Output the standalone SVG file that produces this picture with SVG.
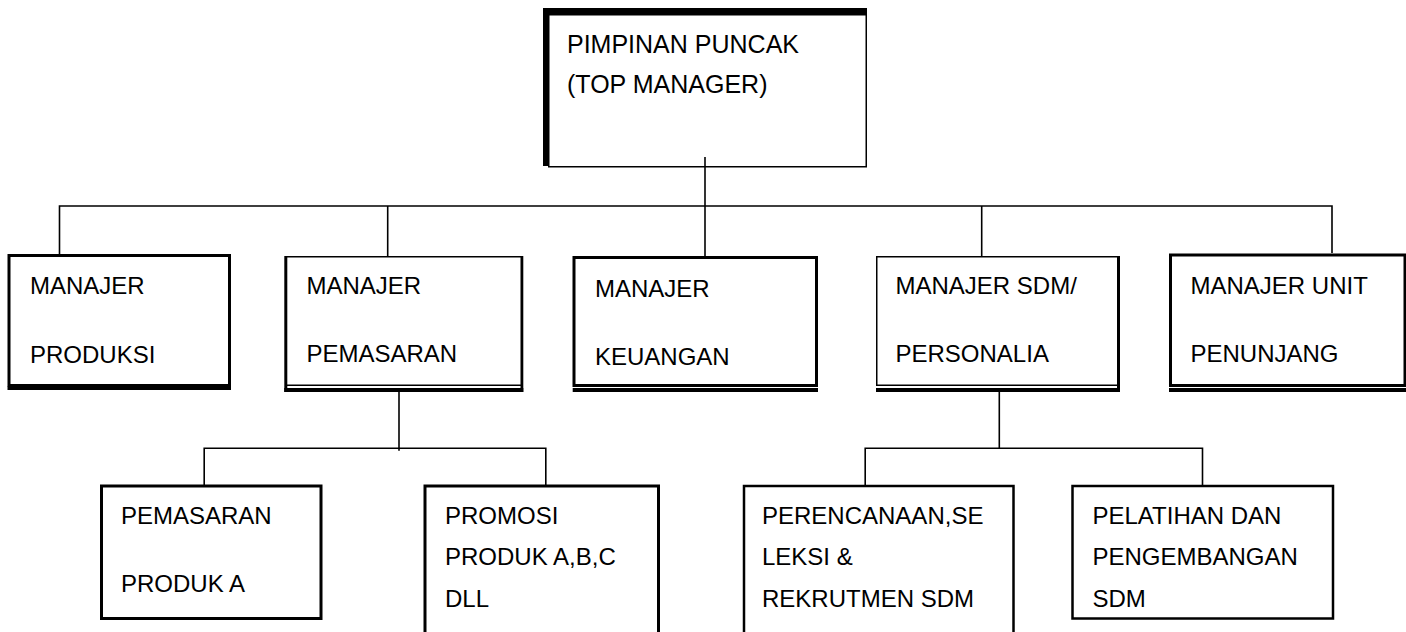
<svg xmlns="http://www.w3.org/2000/svg" width="1406" height="632" viewBox="0 0 1406 632">
<style>
.thick{fill:#fff;stroke:#000;stroke-width:3}
.thin{fill:#fff;stroke:#000;stroke-width:1.5}
.sh{fill:#000}
.conn{fill:none;stroke:#000;stroke-width:1.6}
text{font-family:"Liberation Sans",Arial,sans-serif;font-size:24px;fill:#000}
.big{font-size:25px}
</style>
<rect width="1406" height="632" fill="#fff"/>
<g id="connectors">
<path class="conn" d="M705,157 V256"/>
<path class="conn" d="M59.5,254 V206 H1332 V253"/>
<path class="conn" d="M387.7,206 V256"/>
<path class="conn" d="M981.7,206 V256"/>
<path class="conn" d="M399,392 V450.7"/>
<path class="conn" d="M204.2,485 V448.3 H545.8 V485"/>
<path class="conn" d="M999.3,390 V448.3"/>
<path class="conn" d="M865.2,485 V448.3 H1202.5 V485"/>
</g>
<g id="top">
<path class="sh" d="M543,8 H867 V14 H548.5 V166 H543 Z"/>
<rect class="thin" x="548.75" y="14.75" width="317.5" height="152"/>
<path class="conn" d="M705,157 V167"/>
<text class="big" x="567" y="53">PIMPINAN PUNCAK</text>
<text class="big" x="567" y="93">(TOP MANAGER)</text>
</g>
<g id="produksi">
<rect class="thick" x="9" y="255.5" width="220.5" height="130"/>
<rect class="sh" x="7.5" y="386.5" width="223.5" height="3.5"/>
<text x="30" y="294">MANAJER</text>
<text x="30" y="363">PRODUKSI</text>
</g>
<g id="pemasaran">
<rect class="thin" x="286" y="256.75" width="236" height="128.5"/>
<rect class="sh" x="284.3" y="256" width="3" height="136"/>
<rect class="sh" x="520.5" y="256" width="2.8" height="136"/>
<rect class="sh" x="284.3" y="388" width="239" height="4"/>
<text x="306.5" y="294">MANAJER</text>
<text x="306.5" y="362">PEMASARAN</text>
</g>
<g id="keuangan">
<rect class="thick" x="574" y="257.5" width="242.5" height="128"/>
<rect class="sh" x="572.7" y="388" width="245.3" height="4"/>
<text x="595" y="297">MANAJER</text>
<text x="595" y="365">KEUANGAN</text>
</g>
<g id="sdm">
<rect class="thin" x="876.75" y="256.75" width="241.5" height="128.5"/>
<rect class="sh" x="1117" y="256" width="3" height="136"/>
<rect class="sh" x="876" y="388" width="244" height="4"/>
<text x="895.5" y="294">MANAJER SDM/</text>
<text x="895.5" y="362">PERSONALIA</text>
</g>
<g id="unit">
<rect class="thick" x="1170.5" y="255" width="234.5" height="130.5"/>
<rect class="sh" x="1169" y="388" width="237" height="4"/>
<text x="1190.5" y="294">MANAJER UNIT</text>
<text x="1190.5" y="362">PENUNJANG</text>
</g>
<g id="pemasaran-a">
<rect class="thick" x="101.5" y="486" width="219.5" height="132.5"/>
<text x="121" y="524">PEMASARAN</text>
<text x="121" y="592">PRODUK A</text>
</g>
<g id="promosi">
<rect class="thick" x="425" y="486" width="233.5" height="160"/>
<text x="445" y="524">PROMOSI</text>
<text x="445" y="565">PRODUK A,B,C</text>
<text x="445" y="607">DLL</text>
</g>
<g id="perencanaan">
<rect class="thick" x="744" y="486" width="269.5" height="160" style="stroke-width:2.5"/>
<text x="762" y="524">PERENCANAAN,SE</text>
<text x="762" y="565">LEKSI &amp;</text>
<text x="762" y="607">REKRUTMEN SDM</text>
</g>
<g id="pelatihan">
<rect class="thick" x="1072.5" y="486" width="260.5" height="132.5" style="stroke-width:2.5"/>
<text x="1092.5" y="524">PELATIHAN DAN</text>
<text x="1092.5" y="565">PENGEMBANGAN</text>
<text x="1092.5" y="607">SDM</text>
</g>
</svg>
